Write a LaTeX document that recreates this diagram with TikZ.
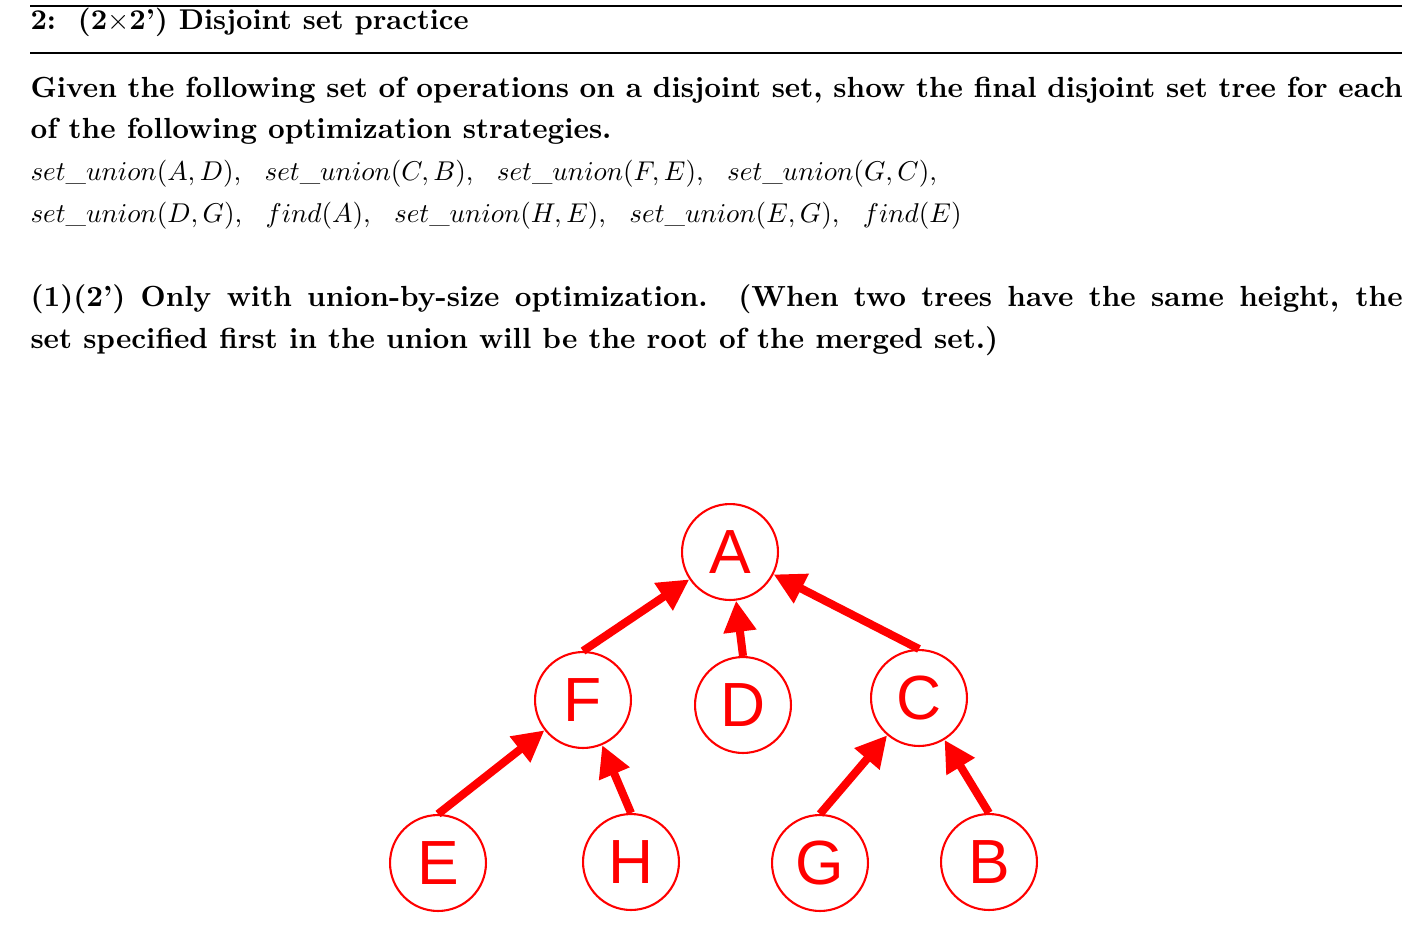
\documentclass[tikz,border=0pt]{standalone}
\usepackage{fix-cm}
\usepackage{fontspec}
\newfontfamily\bodyfont{lmroman10-regular.otf}[Ligatures=TeX, BoldFont=lmroman10-bold.otf]
\newfontfamily\treefont{Liberation Sans}
\usetikzlibrary{arrows.meta,calc,positioning}

\begin{document}
\begin{tikzpicture}[x=0.3846pt, y=-0.3846pt,
  txt/.style={anchor=base west, inner sep=0pt, font=\bodyfont\fontsize{11.2}{13}\selectfont\bfseries},
  optxt/.style={anchor=base west, inner sep=0pt, font=\fontsize{10.45}{12}\selectfont},
  setnode/.style={draw=red, circle, line width=0.8pt, minimum size=36.9pt, inner sep=0pt,
    text=red, font=\treefont\fontsize{24}{24}\selectfont},
  parent/.style={draw=red, line width=3.1pt, -{Triangle[length=12pt,width=12pt]}}]
\useasboundingbox (0,0) rectangle (1410,935);
\def\linew{527.7pt}
\newcommand{\op}[1]{$#1$,\hspace{9pt}}

% header
\coordinate (hl) at (30,6);
\coordinate (hr) at (1402,6);
\draw [line width=0.5pt] (hl) -- (hr);
\node [txt, font=\bodyfont\fontsize{11}{13}\selectfont\bfseries] (title) at (30,29) {2:\ \ (2$\times$2')\ Disjoint set practice};
\draw [line width=0.5pt] ($(hl)+(0,47)$) -- ($(hr)+(0,47)$);

% question
\node [txt] (q1) at (30,97) {\makebox[\linew][s]{Given the following set of operations on a disjoint set, show the final disjoint set tree for each}};
\node [txt] (q2) at (30,138) {of the following optimization strategies.};
\node [optxt] (ops1) at (30,180) {\op{set\_union(A, D)}\op{set\_union(C, B)}\op{set\_union(F, E)}$set\_union(G, C)$,};
\node [optxt] (ops2) at (30,222) {\op{set\_union(D, G)}\op{find(A)}\op{set\_union(H, E)}\op{set\_union(E, G)}$find(E)$};

\node [txt] (p1) at (30,306) {\makebox[\linew][s]{(1)(2') Only with union-by-size optimization.\ \ (When two trees have the same height, the}};
\node [txt] (p2) at (30,348) {set specified first in the union will be the root of the merged set.)};

% final tree
\node [setnode] (A) at (730,552) {A};
\node [setnode] (F) at (583,700) {F};
\node [setnode] (D) at (743,705) {D};
\node [setnode] (C) at (919,698) {C};
\node [setnode] (E) at (438,863) {E};
\node [setnode] (H) at (631,862) {H};
\node [setnode] (G) at (820,863) {G};
\node [setnode] (B) at (989,862) {B};

\foreach \kid/\up in {F/A, D/A, C/A, E/F, H/F, G/C, B/C}
  \draw [parent] (\kid.north) -- (\up);
\end{tikzpicture}
\end{document}
